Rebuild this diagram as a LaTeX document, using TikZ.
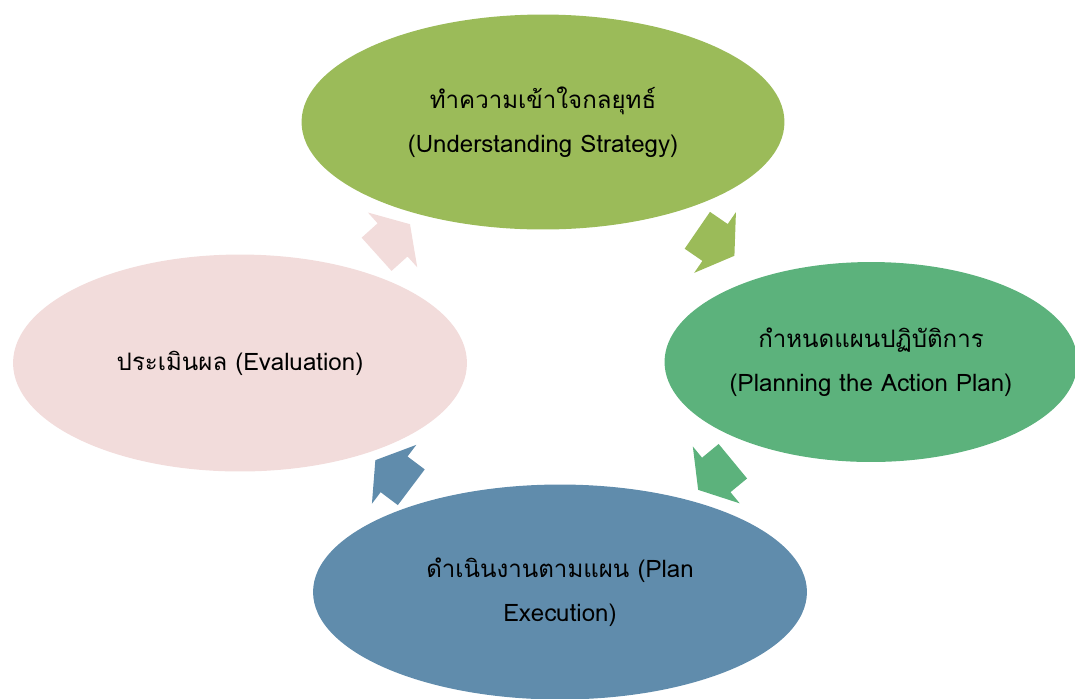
\documentclass[tikz,border=0pt]{standalone}
\usepackage{fontspec}
\setmainfont[Script=Thai]{Loma}
\usetikzlibrary{shapes.geometric,shapes.arrows}
\definecolor{stratgreen}{RGB}{155,187,89}
\definecolor{plangreen}{RGB}{92,178,124}
\definecolor{execblue}{RGB}{96,140,172}
\definecolor{evalpink}{RGB}{242,220,219}
\tikzset{
  stage/.style={ellipse,inner sep=0pt,align=center,font=\fontsize{13.7}{25}\selectfont},
  cyclearrow/.style={single arrow,inner xsep=0pt,inner ysep=0.44cm,minimum height=0.9cm,
    single arrow head extend=0.29cm,single arrow tip angle=115}
}
\begin{document}
\begin{tikzpicture}[x=0.02cm,y=-0.02cm]
            \useasboundingbox (0,0) rectangle (1075,698);
            \node[stage,fill=stratgreen,minimum width=9.66cm,minimum height=4.3cm] (strat) at (543,122) {ทำความเข้าใจกลยุทธ์\\(Understanding Strategy)};
            \node[stage,fill=plangreen,minimum width=8.26cm,minimum height=4cm] (plan) at (871,362) {กำหนดแผนปฏิบัติการ\\(Planning the Action Plan)};
            \node[stage,fill=execblue,minimum width=9.88cm,minimum height=4.3cm] (exec) at (560,592) {ดำเนินงานตามแผน (Plan\\Execution)};
            \node[stage,fill=evalpink,minimum width=9.08cm,minimum height=4.34cm] (eval) at (240,363) {ประเมินผล (Evaluation)};
            \node[cyclearrow,fill=stratgreen,rotate=-34.5] (a1) at (710,239) {};
            \node[cyclearrow,fill=plangreen,rotate=-140.5] (a2) at (721,471) {};
            \node[cyclearrow,fill=execblue,rotate=143] (a3) at (399,478) {};
            \node[cyclearrow,fill=evalpink,rotate=42] (a4) at (388,244) {};
        \end{tikzpicture}
\end{document}
